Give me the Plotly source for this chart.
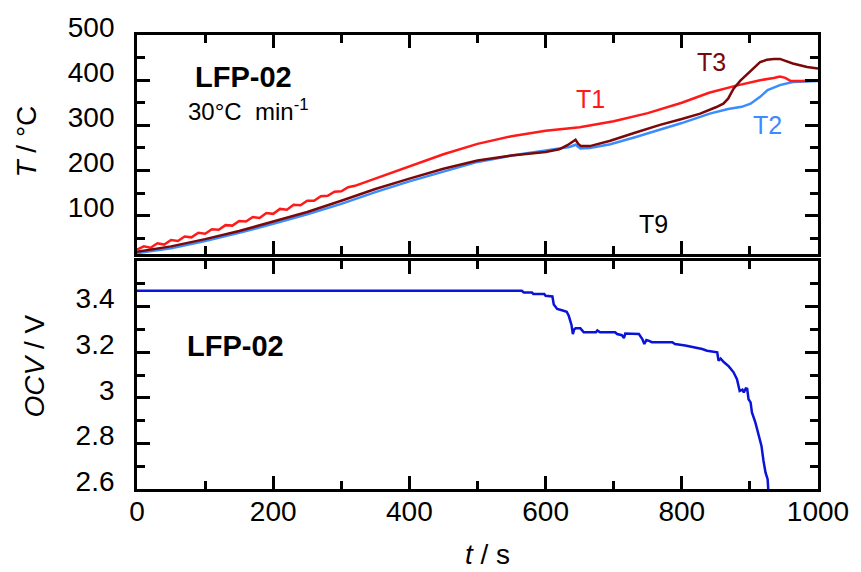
import plotly.graph_objects as go

FONT = "Liberation Sans, Arial, sans-serif"

# ---- thermocouple temperatures (top panel) ----
t_T1 = [0, 10, 20, 30, 40, 50, 60, 70, 80, 90, 100, 110, 120, 130, 140, 150, 160,
        170, 180, 190, 200, 210, 220, 230, 240, 250, 260, 270, 280, 290, 300, 310,
        320, 350, 400, 450, 500, 550, 600, 650, 700, 750, 800, 840, 880, 915, 935,
        944, 952, 960, 975, 1000]
T1 = [25, 32, 29, 39, 36, 46, 44, 54, 52, 62, 60, 70, 69, 79, 78, 88, 87,
      97, 95, 106, 104, 115, 113, 124, 123, 133, 133, 143, 144, 153, 154, 163,
      166, 182, 208, 236, 259, 276, 288, 296, 309, 327, 350, 372, 388, 400, 405,
      408, 405, 398, 398, 399]

t_T2 = [0, 25, 50, 100, 150, 200, 250, 300, 350, 400, 450, 500, 550, 600, 620,
        635, 644, 651, 665, 680, 695, 730, 768, 800, 841, 868, 888, 901, 915, 926,
        944, 963, 1000]
T2 = [17, 22, 28, 44, 62, 82, 103, 126, 152, 176, 198, 219, 233, 244, 249,
      252, 257, 249, 250, 254, 258, 273, 290, 305, 326, 336, 341, 348, 363, 378,
      389, 396, 398]

t_T3 = [0, 25, 50, 100, 150, 200, 250, 300, 350, 400, 450, 500, 550, 600, 620,
        632, 638, 644, 648, 652, 665, 680, 695, 730, 768, 800, 827, 850, 861, 868,
        876, 886, 897, 906, 915, 925, 935, 944, 954, 963, 984, 1000]
T3 = [20, 26, 32, 48, 66, 87, 108, 133, 159, 182, 204, 222, 233, 241, 247,
      256, 262, 268, 259, 254, 254, 260, 266, 283, 301, 314, 326, 340, 348, 359,
      381, 399, 415, 429, 440, 445, 447, 447, 442, 437, 429, 426]

# ---- open-circuit voltage (bottom panel) ----
t_ocv = [0, 565, 568, 580, 582, 598, 600, 610, 612, 617, 624, 631, 634, 638,
         640, 642, 644, 651, 654, 656, 674, 676, 680, 702, 705, 712, 715, 717,
         737, 740, 742, 745, 748, 752, 756, 786, 790, 805, 820, 830, 837, 849,
         852, 854, 857, 862, 869, 876, 881, 885, 889, 891, 894, 896, 898, 901,
         903, 908, 913, 917, 920, 923, 926, 927, 928]
ocv = [3.47, 3.47, 3.462, 3.462, 3.456, 3.456, 3.448, 3.445, 3.41, 3.39,
       3.384, 3.378, 3.36, 3.32, 3.28, 3.30, 3.305, 3.305, 3.295, 3.288,
       3.288, 3.296, 3.288, 3.288, 3.28, 3.275, 3.262, 3.282, 3.28, 3.268,
       3.258, 3.236, 3.254, 3.25, 3.244, 3.244, 3.236, 3.23, 3.222, 3.214,
       3.207, 3.202, 3.2, 3.163, 3.172, 3.156, 3.138, 3.112, 3.082, 3.03,
       3.036, 3.024, 3.041, 3.04, 2.994, 2.98, 2.936, 2.892, 2.833, 2.789,
       2.723, 2.672, 2.643, 2.6, 2.55]

x_ticks = [0, 200, 400, 600, 800, 1000]
x_ticktext = ["0", "200", "400", "600", "800", "1000"]
T_ticks = [100, 200, 300, 400, 500]
V_ticks = [2.6, 2.8, 3.0, 3.2, 3.4]
V_ticktext = ["2.6", "2.8", "3", "3.2", "3.4"]

C_T1 = "#ff1a1a"
C_T2 = "#3a8cff"
C_T3 = "#7a0808"
C_OCV = "#0a14d8"

fig = go.Figure()
fig.add_trace(go.Scatter(x=t_T2, y=T2, mode="lines", line=dict(color=C_T2, width=2.5),
                         xaxis="x", yaxis="y"))
fig.add_trace(go.Scatter(x=t_T1, y=T1, mode="lines", line=dict(color=C_T1, width=2.5),
                         xaxis="x", yaxis="y"))
fig.add_trace(go.Scatter(x=t_T3, y=T3, mode="lines", line=dict(color=C_T3, width=2.5),
                         xaxis="x", yaxis="y"))
fig.add_trace(go.Scatter(x=t_ocv, y=ocv, mode="lines", line=dict(color=C_OCV, width=2.5),
                         xaxis="x2", yaxis="y2"))

tickfont = dict(family=FONT, size=28, color="black")
base = dict(showline=True, linewidth=2.8, linecolor="black", mirror="ticks",
            ticks="inside", ticklen=13, tickwidth=2.5, tickcolor="black",
            showgrid=False, zeroline=False, tickfont=tickfont)
minor_style = dict(ticks="inside", ticklen=8, tickwidth=2.5, tickcolor="black")

fig.update_layout(
    width=861, height=572,
    margin=dict(l=137, r=43, t=33, b=83),
    paper_bgcolor="white", plot_bgcolor="white",
    showlegend=False,
    xaxis=dict(base, domain=[0, 1], anchor="y", range=[0, 1000],
               tickvals=x_ticks, showticklabels=False,
               minor=dict(minor_style, tickvals=[100, 300, 500, 700, 900])),
    yaxis=dict(base, domain=[0.5175, 1], anchor="x", range=[15, 500],
               tickvals=T_ticks, ticklabelshift=-8, ticklabelstandoff=14,
               minor=dict(minor_style, tickvals=[50, 150, 250, 350, 450])),
    xaxis2=dict(base, domain=[0, 1], anchor="y2", range=[0, 1000],
                tickvals=x_ticks, ticktext=x_ticktext, ticklabelstandoff=-5,
                minor=dict(minor_style, tickvals=[100, 300, 500, 700, 900])),
    yaxis2=dict(base, domain=[0, 0.502], anchor="x2", range=[2.6, 3.6],
                tickvals=V_ticks, ticktext=V_ticktext, ticklabelshift=-8,
                ticklabelstandoff=14,
                minor=dict(minor_style, tickvals=[2.7, 2.9, 3.1, 3.3, 3.5])),
)

# pixel geometry of the plotting area, used to place the axis titles
W, H = 861, 572
pl, pr, pt, pb = 137, 43, 33, 83
pw, ph = W - pl - pr, H - pt - pb


def px_to_paper(xp, yp):
    return (xp - pl) / pw, 1 - (yp - pt) / ph


ann = []


def note(text, x, y, size, color="black", xref="x", yref="y", bold=False, angle=0):
    ann.append(dict(text=f"<b>{text}</b>" if bold else text, x=x, y=y,
                    xref=xref, yref=yref, showarrow=False, textangle=angle,
                    font=dict(family=FONT, size=size, color=color),
                    xanchor="center", yanchor="middle"))


# panel labels
note("LFP-02", 156, 407, 29, bold=True)
note("30°C  min<sup>-1</sup>", 163, 335, 24)
note("LFP-02", 144, 3.227, 29, xref="x2", yref="y2", bold=True)
# curve labels
note("T1", 666, 359, 25, color=C_T1)
note("T3", 843, 440, 25, color=C_T3)
note("T2", 926, 301, 25, color=C_T2)
note("T9", 758, 81, 25)
# axis titles
xa, ya = px_to_paper(27, 140)
note("<i>T</i> / °C", xa, ya, 28, xref="paper", yref="paper", angle=-90)
xa, ya = px_to_paper(487, 555)
note("<i>t</i> / s", xa, ya, 28, xref="paper", yref="paper")
xa, ya = px_to_paper(35, 366)
note("<i>OCV</i> / V", xa, ya, 28, xref="paper", yref="paper", angle=-90)

fig.update_layout(annotations=ann)
fig.write_html("out.html")
